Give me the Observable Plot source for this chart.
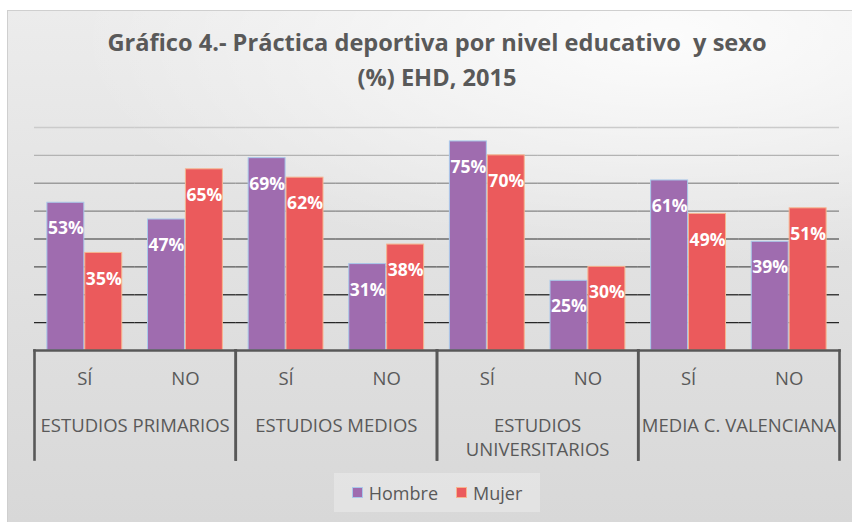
<!DOCTYPE html>
<html>
<head>
<meta charset="utf-8">
<script src="https://cdn.jsdelivr.net/npm/d3@7"></script>
<script src="https://cdn.jsdelivr.net/npm/@observablehq/plot@0.6"></script>
<style>
  html, body { margin: 0; padding: 0; background: #ffffff; }
  #page { position: relative; width: 852px; height: 522px; overflow: hidden; font-family: "Open Sans", sans-serif; }
  #box { position: absolute; left: 7px; top: 10px; width: 845px; height: 512px; box-sizing: border-box;
         border-top: 1px solid #cfcfcf; border-left: 1px solid #cfcfcf;
         background: radial-gradient(ellipse 70% 45% at 78% 5%, rgba(255,255,255,0.85), rgba(255,255,255,0) 100%),
                     linear-gradient(to bottom, #ececec 0%, #e2e2e2 45%, #d8d8d8 100%); }
  #title { position: absolute; left: 22px; width: 830px; top: 25px; text-align: center; white-space: pre;
           font-weight: bold; font-size: 23.6px; line-height: 35px; color: #595959; }
  .layer { position: absolute; left: 0; }
  #legend { position: absolute; left: 334px; top: 473px; width: 206px; height: 39px; background: rgba(255,255,255,0.28);
            display: flex; align-items: center; justify-content: center; font-size: 18px; color: #595959; }
  #legend .item { display: flex; align-items: center; margin: 0 9px; }
  #legend .sw { width: 11px; height: 11px; margin-right: 6px; box-sizing: border-box; border: 1px solid; }
</style>
</head>
<body>
<div id="page">
  <div id="box"></div>
  <div id="title"></div>
  <div id="chart" class="layer" style="top:100px"></div>
  <div id="axis" class="layer" style="top:340px"></div>
  <div id="legend"></div>
</div>
<script>
const titleLines = ["Gráfico 4.- Práctica deportiva por nivel educativo  y sexo", "(%) EHD, 2015"];
const groups = ["ESTUDIOS PRIMARIOS", "ESTUDIOS MEDIOS", "ESTUDIOS\nUNIVERSITARIOS", "MEDIA C. VALENCIANA"];
const answers = ["SÍ", "NO"];
const series = ["Hombre", "Mujer"];
// values in order: group x answer
const hombre = [53, 47, 69, 31, 75, 25, 61, 39];
const mujer  = [35, 65, 62, 38, 70, 30, 49, 51];
const gridTicks = [10, 20, 30, 40, 50, 60, 70, 80];

const seriesValues = {Hombre: hombre, Mujer: mujer};
const fills = {Hombre: "#9f6caf", Mujer: "#eb5a5c"};
const edges = {Hombre: "#a9c8ea", Mujer: "#f6b48f"};
const textColor = "#595959";

document.getElementById("title").textContent = titleLines.join("\n");

const keys = [];
const rows = [];
groups.forEach((g, gi) => answers.forEach((a, ai) => {
  const key = g + "|" + a;
  keys.push(key);
  series.forEach(s => rows.push({group: g, answer: a, key, sex: s, value: seriesValues[s][gi * answers.length + ai]}));
}));

const gridColor = d3.scaleLinear().domain([10, 80]).range(["#262626", "#cbcbcb"]).interpolate(d3.interpolateRgb);

const chart = Plot.plot({
  width: 852, height: 250,
  marginTop: 27, marginBottom: 0, marginLeft: 34, marginRight: 13,
  style: {background: "transparent", overflow: "visible", fontFamily: "Open Sans"},
  fx: {domain: keys, padding: 0, round: false, axis: null},
  x: {type: "band", domain: series, paddingInner: 0.025, paddingOuter: 0.34, round: false, axis: null},
  y: {domain: [0, 80], axis: null},
  marks: [
    ...gridTicks.map(t => Plot.ruleY([t], {stroke: gridColor(t), strokeWidth: 1.3})),
    ...series.map(s => Plot.barY(rows.filter(r => r.sex === s), {
      fx: "key", x: "sex", y: "value", fill: fills[s], stroke: edges[s], strokeWidth: 1
    })),
    Plot.text(rows, {
      fx: "key", x: "sex", y: "value", text: d => d.value + "%",
      fill: "white", fontWeight: "bold", fontSize: 17.5, lineAnchor: "middle", dy: 26
    })
  ]
});
document.getElementById("chart").appendChild(chart);

const subRows = [];
groups.forEach(g => answers.forEach(a => subRows.push({group: g, answer: a})));

const axis = Plot.plot({
  width: 852, height: 122,
  marginTop: 10, marginBottom: 3, marginLeft: 34, marginRight: 13,
  style: {background: "transparent", overflow: "visible", fontFamily: "Open Sans"},
  fx: {domain: groups, padding: 0, round: false, axis: null},
  x: {type: "band", domain: answers, padding: 0, round: false, axis: null},
  marks: [
    Plot.frame({anchor: "top", stroke: "#585858", strokeWidth: 2.6}),
    Plot.frame({anchor: "left", stroke: "#585858", strokeWidth: 2.6}),
    Plot.frame({anchor: "right", stroke: "#585858", strokeWidth: 2.6}),
    Plot.text(subRows, {fx: "group", x: "answer", text: "answer", frameAnchor: "top",
      lineAnchor: "bottom", dy: 34, fontSize: 18.5, fill: textColor}),
    Plot.text(groups, {fx: d => d, text: d => d, frameAnchor: "top",
      lineAnchor: "top", dy: 64, lineHeight: 1.3, fontSize: 18.5, fill: textColor})
  ]
});
document.getElementById("axis").appendChild(axis);

const legend = document.getElementById("legend");
series.forEach(s => {
  const item = document.createElement("div");
  item.className = "item";
  const sw = document.createElement("span");
  sw.className = "sw";
  sw.style.background = fills[s];
  sw.style.borderColor = edges[s];
  const label = document.createElement("span");
  label.textContent = s;
  item.appendChild(sw);
  item.appendChild(label);
  legend.appendChild(item);
});
</script>
</body>
</html>
